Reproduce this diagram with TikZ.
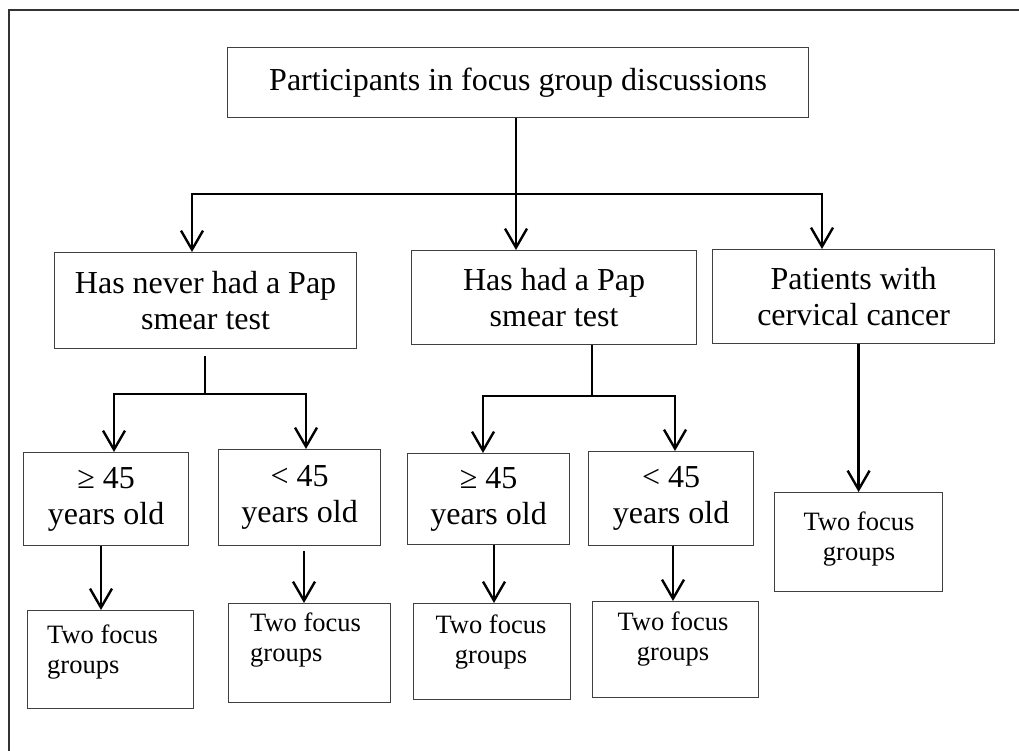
\documentclass[tikz,border=0pt]{standalone}
\usepackage{fontspec}
\setmainfont{Liberation Serif}
\usepackage{tikz}
\usetikzlibrary{arrows.meta, calc, positioning}
\tikzset{
  fg-box/.style={rectangle, draw=black!75, line width=1.2pt, inner sep=0pt, anchor=north west},
  fg-big/.style={font=\fontsize{32}{36}\selectfont, align=center},
  fg-small/.style={font=\fontsize{26.5}{30}\selectfont, inner sep=0pt, align=left},
  fg-line/.style={line width=2.4pt, black},
  fg-arrow/.style={fg-line, -{Straight Barb[length=19pt, width=22pt, line width=2.4pt]}},
  fg-frame/.style={line width=1.3pt, black!80}
}

\begin{document}
\begin{tikzpicture}[x=1pt, y=-1pt]
    \useasboundingbox (0,0) rectangle (1019,751);
    % --- Frame ---
    \draw[fg-frame] (9,751) -- (9,10) -- (1019,10);

    % --- Top level ---
    \node[fg-box, fg-big, minimum width=581pt, minimum height=70pt] (top) at (227,47) {Participants in focus group discussions};

    % --- Second level ---
    \node[fg-box, fg-big, minimum width=302pt, minimum height=96pt] (never) at (54,252) {Has never had a Pap\\smear test};
    \node[fg-box, fg-big, minimum width=285pt, minimum height=94pt] (had) at (411,250) {Has had a Pap\\smear test};
    \node[fg-box, fg-big, minimum width=282pt, minimum height=94pt] (cancer) at (712,249) {Patients with\\cervical cancer};

    % --- Age groups ---
    \node[fg-box, fg-big, minimum width=165pt, minimum height=93pt] (aL) at (23,452) {≥ 45\\years old};
    \node[fg-box, fg-big, minimum width=162pt, minimum height=96pt] (aR) at (218,449) {< 45\\years old};
    \node[fg-box, fg-big, minimum width=162pt, minimum height=91pt] (bL) at (407,453) {≥ 45\\years old};
    \node[fg-box, fg-big, minimum width=165pt, minimum height=94pt] (bR) at (588,451) {< 45\\years old};

    % --- Focus groups ---
    \node[fg-box, minimum width=166pt, minimum height=98pt] (g1) at (27,610) {};
    \node[fg-box, minimum width=162pt, minimum height=99pt] (g2) at (228,603) {};
    \node[fg-box, minimum width=157pt, minimum height=96pt] (g3) at (413,603) {};
    \node[fg-box, minimum width=166pt, minimum height=96pt] (g4) at (592,601) {};
    \node[fg-box, minimum width=168pt, minimum height=99pt] (gC) at (774,492) {};
    \node[fg-small, anchor=north west] (g1t) at (47,625) {Two focus\\groups};
    \node[fg-small, anchor=north west] (g2t) at (250,613) {Two focus\\groups};
    \node[fg-small, anchor=north, align=center] (g3t) at (491,615) {Two focus\\groups};
    \node[fg-small, anchor=north, align=center] (g4t) at (673,612) {Two focus\\groups};
    \node[fg-small, anchor=north, align=center] (gCt) at (859,512) {Two focus\\groups};

    % branch points
    \coordinate (hub) at (516,194);
    \coordinate (brL) at (192,194);
    \coordinate (brR) at (822,194);
    \coordinate (hubA) at (205,394);
    \coordinate (brAL) at (114,394);
    \coordinate (brAR) at (306,394);
    \coordinate (hubB) at (592,396);
    \coordinate (brBL) at (483,396);
    \coordinate (brBR) at (675,396);
    \coordinate (c1) at (101,0);
    \coordinate (c2) at (304,0);
    \coordinate (c3) at (494,0);
    \coordinate (c4) at (673,0);

    % --- Connectors ---
    \draw[fg-line] (top.south -| hub) -- (hub);
    \draw[fg-arrow] (hub) -| (brL |- never.north);
    \draw[fg-arrow] (hub) -- (hub |- had.north);
    \draw[fg-arrow] (hub) -| (brR |- cancer.north);

    \draw[fg-line] ($(never.south -| hubA)+(0,7)$) -- (hubA);
    \draw[fg-arrow] (hubA) -| (brAL |- aL.north);
    \draw[fg-arrow] (hubA) -| (brAR |- aR.north);

    \draw[fg-line] (had.south -| hubB) -- (hubB);
    \draw[fg-arrow] (hubB) -| (brBL |- bL.north);
    \draw[fg-arrow] (hubB) -| (brBR |- bR.north);

    \draw[fg-arrow] (cancer.south -| gC.north) -- (gC.north);

    \draw[fg-arrow] (aL.south -| c1) -- (g1.north -| c1);
    \draw[fg-arrow] ($(aR.south -| c2)+(0,5)$) -- (g2.north -| c2);
    \draw[fg-arrow] (bL.south -| c3) -- (g3.north -| c3);
    \draw[fg-arrow] (bR.south -| c4) -- (g4.north -| c4);
\end{tikzpicture}
\end{document}
